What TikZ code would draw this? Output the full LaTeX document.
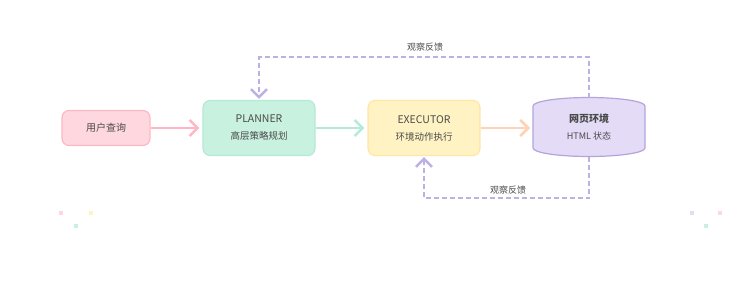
\documentclass[tikz,border=0pt]{standalone}
\usepackage{fontspec}
\setmainfont{Noto Sans CJK SC}
\usetikzlibrary{arrows.meta}
\definecolor{pinkF}{HTML}{FFD7DF}
\definecolor{pinkD}{HTML}{FFB7C5}
\definecolor{greenF}{HTML}{C9F1E0}
\definecolor{greenD}{HTML}{B5EAD7}
\definecolor{yelF}{HTML}{FFF3C4}
\definecolor{yelD}{HTML}{FFE5A8}
\definecolor{purF}{HTML}{E4DBF7}
\definecolor{purD}{HTML}{B4A3DC}
\definecolor{purL}{HTML}{BDB0E2}
\definecolor{peach}{HTML}{FFD2B5}
\definecolor{txt}{HTML}{4A4A4A}
\tikzset{
  box/.style={rounded corners=7pt, line width=1.2pt, minimum width=112pt, minimum height=55pt, align=center, text=txt, font=\fontsize{9.5}{17}\selectfont},
  flow/.style={line width=2pt, -{Straight Barb[length=8pt,width=16pt,line width=2.5pt]}},
  fb/.style={purL, dash pattern=on 5pt off 3pt, line width=1.1pt},
  fbtip/.style={-{Straight Barb[length=8pt,width=16pt,line width=2.5pt]}},
  lbl/.style={text=txt, font=\fontsize{9}{10}\selectfont},
  dot/.style={minimum size=4pt, inner sep=0pt}
}
\begin{document}
\begin{tikzpicture}[x=1pt,y=-1pt]
\useasboundingbox (0,0) rectangle (746,285);
\node[box, fill=pinkF, draw=pinkD, minimum width=88pt, minimum height=35pt, font=\fontsize{10}{12}\selectfont] (q) at (106,128) {用户查询};
\node[box, fill=greenF, draw=greenD] (p) at (259,128) {{\fontsize{10.5}{12}\selectfont PLANNER}\\高层策略规划};
\node[box, fill=yelF, draw=yelD] (e) at (424,128) {{\fontsize{10.5}{12}\selectfont EXECUTOR}\\环境动作执行};
\coordinate (w) at (589,127);
\draw[purD, line width=1.2pt, fill=purF] (533,106) arc[start angle=180,end angle=360,x radius=56,y radius=8.5] -- (645,148) arc[start angle=0,end angle=180,x radius=56,y radius=8.5] -- cycle;
\node[text=txt, align=center, font=\fontsize{9}{17}\selectfont, inner sep=0pt] (wt) at (w) {{\bfseries\fontsize{10}{12}\selectfont 网页环境}\\HTML 状态};
\coordinate (wtop) at (589,97.5);
\coordinate (wbot) at (589,156.5);
\coordinate (wleft) at (533,128);
\draw[flow, pinkD] (q.east) -- ([xshift=-3pt]p.west);
\draw[flow, greenD] (p.east) -- ([xshift=-3pt]e.west);
\draw[flow, peach] (e.east) -- ([xshift=-3pt]wleft);
\draw[fb, fbtip] (wtop) -- (589,57) -- (259,57) coordinate (tl) -- ([yshift=1pt]p.north);
\node[lbl] (l1) at (425,47) {观察反馈};
\draw[fb, fbtip] (wbot) -- (589,198) -- (424,198) coordinate (bl) -- ([yshift=-1pt]e.south);
\node[lbl] (l2) at (508,190) {观察反馈};
\node[dot, fill=pinkF] (d1) at (61,213) {};
\node[dot, fill=yelF] (d2) at (91,213) {};
\node[dot, fill=greenF] (d3) at (76,226) {};
\node[dot, fill=purF] (d4) at (692,213) {};
\node[dot, fill=pinkF] (d5) at (720,213) {};
\node[dot, fill=greenF] (d6) at (706,226) {};
\end{tikzpicture}
\end{document}
